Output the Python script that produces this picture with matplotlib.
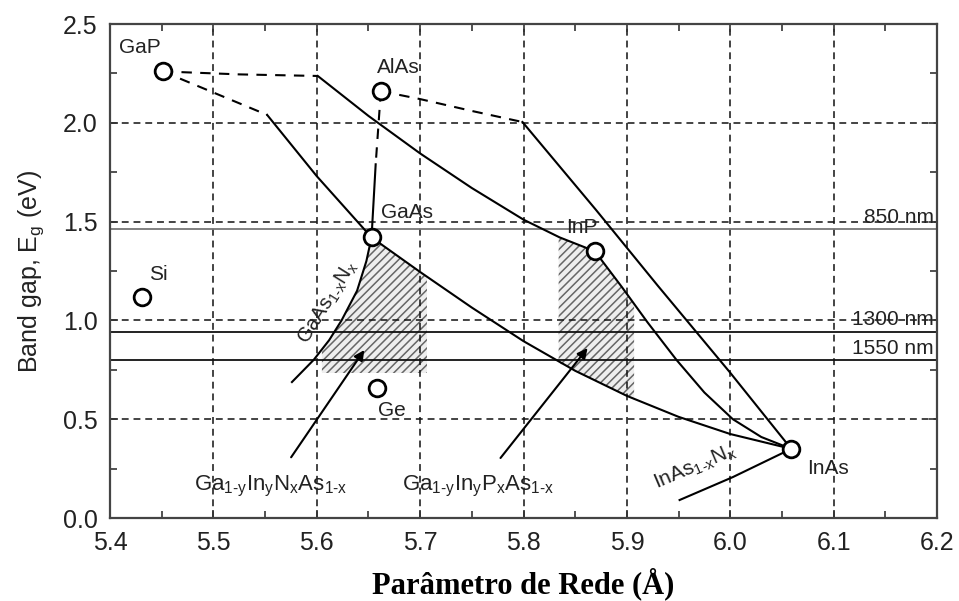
import matplotlib
matplotlib.use("Agg")
import matplotlib.pyplot as plt
from matplotlib.ticker import MultipleLocator

plt.rcParams['font.family'] = ['Liberation Sans', 'DejaVu Sans']
plt.rcParams['mathtext.fontset'] = 'custom'
plt.rcParams['mathtext.rm'] = 'Liberation Sans'
plt.rcParams['mathtext.it'] = 'Liberation Sans'
plt.rcParams['hatch.linewidth'] = 1.1

# ---- data ----
compounds = ['GaP', 'AlAs', 'GaAs', 'InP', 'Si', 'Ge', 'InAs']
lattice = [5.451, 5.662, 5.653, 5.869, 5.431, 5.658, 6.059]
bandgap = [2.26, 2.16, 1.42, 1.35, 1.12, 0.66, 0.35]

# alloy curves (dashed = indirect part, solid = direct part)
gap_gaas_dash_x = [5.451, 5.552]
gap_gaas_dash_y = [2.26, 2.04]
gap_gaas_x = [5.552, 5.600, 5.653]
gap_gaas_y = [2.04, 1.73, 1.42]

gap_inp_dash_x = [5.451, 5.525, 5.601]
gap_inp_dash_y = [2.26, 2.245, 2.237]
gap_inp_x = [5.601, 5.65, 5.70, 5.75, 5.80, 5.835, 5.869]
gap_inp_y = [2.237, 2.035, 1.845, 1.67, 1.51, 1.42, 1.35]

alas_gaas_dash_x = [5.662, 5.657]
alas_gaas_dash_y = [2.16, 1.79]
alas_gaas_x = [5.657, 5.653]
alas_gaas_y = [1.79, 1.42]

alas_inas_dash_x = [5.662, 5.700, 5.750, 5.799]
alas_inas_dash_y = [2.16, 2.12, 2.06, 2.004]
alas_inas_x = [5.799, 5.87, 5.93, 6.00, 6.059]
alas_inas_y = [2.004, 1.56, 1.175, 0.735, 0.35]

inp_inas_x = [5.869, 5.895, 5.92, 5.948, 5.975, 6.0025, 6.03, 6.059]
inp_inas_y = [1.35, 1.17, 0.99, 0.80, 0.635, 0.50, 0.41, 0.35]

gaas_inas_x = [5.653, 5.70, 5.75, 5.80, 5.85, 5.90, 5.95, 6.00, 6.059]
gaas_inas_y = [1.42, 1.245, 1.065, 0.895, 0.745, 0.618, 0.512, 0.425, 0.35]

gaasn_x = [5.653, 5.648, 5.639, 5.624, 5.612, 5.597, 5.576]
gaasn_y = [1.42, 1.30, 1.15, 1.00, 0.90, 0.80, 0.688]

inasn_x = [6.059, 6.0025, 5.951]
inasn_y = [0.35, 0.207, 0.091]

# hatched regions
gainnas_x = [5.653, 5.648, 5.639, 5.624, 5.612, 5.605, 5.605, 5.7066, 5.7066, 5.70]
gainnas_y = [1.42, 1.30, 1.15, 1.00, 0.90, 0.85, 0.734, 0.734, 1.225, 1.245]
gainpas_x = [5.834, 5.869, 5.895, 5.907, 5.907, 5.85, 5.834]
gainpas_y = [1.423, 1.35, 1.17, 1.085, 0.60, 0.745, 0.785]

# telecom wavelengths
wl_labels = ['850 nm', '1300 nm', '1550 nm']
wl_energy = [1.463, 0.943, 0.80]

# ---- figure ----
fig = plt.figure(figsize=(9.59, 6.01), dpi=100)
ax = fig.add_axes([110/959, 1-518/601, (937-110)/959, (518-24)/601])
ax.set_xlim(5.4, 6.2)
ax.set_ylim(0.0, 2.5)

ax.xaxis.set_major_locator(MultipleLocator(0.1))
ax.xaxis.set_minor_locator(MultipleLocator(0.05))
ax.yaxis.set_major_locator(MultipleLocator(0.5))
ax.yaxis.set_minor_locator(MultipleLocator(0.25))
ax.set_xticklabels([f'{v:.1f}' for v in ax.get_xticks()])
ax.set_yticklabels([f'{v:.1f}' for v in ax.get_yticks()])
ax.tick_params(which='both', direction='in', top=True, right=True,
               colors='#333333', labelcolor='#222222')
ax.tick_params(which='major', length=6, width=1.2, labelsize=18, pad=9)
ax.tick_params(which='minor', length=5, width=1.2)
for s in ax.spines.values():
    s.set_color('#444444')
    s.set_linewidth(1.6)

ax.set_axisbelow('line')
ax.grid(True, which='major', color='#111111', linestyle=(0, (4.5, 3.2)),
        linewidth=1.1)

# hatched areas
ax.fill(gainnas_x, gainnas_y, facecolor='#eeeeee', edgecolor='#666666',
        hatch='////', linewidth=0, zorder=0.8)
ax.fill(gainpas_x, gainpas_y, facecolor='#eeeeee', edgecolor='#666666',
        hatch='////', linewidth=0, zorder=0.8)

# wavelength lines
wl_colors = ['#777777', '#111111', '#111111']
for e, lab, c in zip(wl_energy, wl_labels, wl_colors):
    ax.axhline(e, color=c, linewidth=1.3, zorder=2)
    ax.text(6.197, e + 0.012, lab, ha='right', va='bottom', fontsize=15,
            color='#222222')

lk = dict(color='black', linewidth=1.5, zorder=3)
dk = dict(color='black', linewidth=1.5, linestyle=(0, (5, 4)), zorder=3)
ax.plot(gap_gaas_dash_x, gap_gaas_dash_y, **dk)
ax.plot(gap_gaas_x, gap_gaas_y, **lk)
ax.plot(gap_inp_dash_x, gap_inp_dash_y, **dk)
ax.plot(gap_inp_x, gap_inp_y, **lk)
ax.plot(alas_gaas_dash_x, alas_gaas_dash_y, **dk)
ax.plot(alas_gaas_x, alas_gaas_y, **lk)
ax.plot(alas_inas_dash_x, alas_inas_dash_y, **dk)
ax.plot(alas_inas_x, alas_inas_y, **lk)
ax.plot(inp_inas_x, inp_inas_y, **lk)
ax.plot(gaas_inas_x, gaas_inas_y, **lk)
ax.plot(gaasn_x, gaasn_y, **lk)
ax.plot(inasn_x, inasn_y, **lk)

ax.plot(lattice, bandgap, linestyle='none', marker='o', markersize=12,
        markerfacecolor='white', markeredgecolor='black', markeredgewidth=2.0,
        zorder=5)

# compound labels
label_pos = {'GaP': (5.429, 2.38), 'AlAs': (5.679, 2.28), 'GaAs': (5.687, 1.545),
             'InP': (5.856, 1.47), 'Si': (5.447, 1.23), 'Ge': (5.673, 0.545),
             'InAs': (6.095, 0.25)}
for name in compounds:
    x, y = label_pos[name]
    ax.text(x, y, name, ha='center', va='center', fontsize=15, color='#222222',
            zorder=6)

# alloy labels
ax.text(5.611, 1.09, r'GaAs$_{\rm 1\text{-}x}$N$_{\rm x}$', rotation=58,
        ha='center', va='center', fontsize=14.5, color='#222222', zorder=6)
ax.text(5.966, 0.255, r'InAs$_{\rm 1\text{-}x}$N$_{\rm x}$', rotation=23,
        ha='center', va='center', fontsize=15, color='#222222', zorder=6)

ax.annotate(r'Ga$_{\rm 1\text{-}y}$In$_{\rm y}$N$_{\rm x}$As$_{\rm 1\text{-}x}$',
            xy=(5.646, 0.85), xytext=(5.556, 0.16), ha='center', va='center',
            fontsize=16, color='#222222',
            arrowprops=dict(arrowstyle='-|>', color='black', lw=1.5,
                            shrinkA=12, shrinkB=0, mutation_scale=15))
ax.annotate(r'Ga$_{\rm 1\text{-}y}$In$_{\rm y}$P$_{\rm x}$As$_{\rm 1\text{-}x}$',
            xy=(5.862, 0.86), xytext=(5.756, 0.16), ha='center', va='center',
            fontsize=16, color='#222222',
            arrowprops=dict(arrowstyle='-|>', color='black', lw=1.5,
                            shrinkA=12, shrinkB=0, mutation_scale=15))

ax.set_ylabel(r'Band gap, E$_{\rm g}$ (eV)', fontsize=18, color='#222222',
              labelpad=12)
ax.set_xlabel('Parâmetro de Rede (Å)', fontsize=22, fontweight='bold',
              family=['Liberation Serif', 'DejaVu Serif'], labelpad=9)

fig.savefig('out.png', dpi=100)
